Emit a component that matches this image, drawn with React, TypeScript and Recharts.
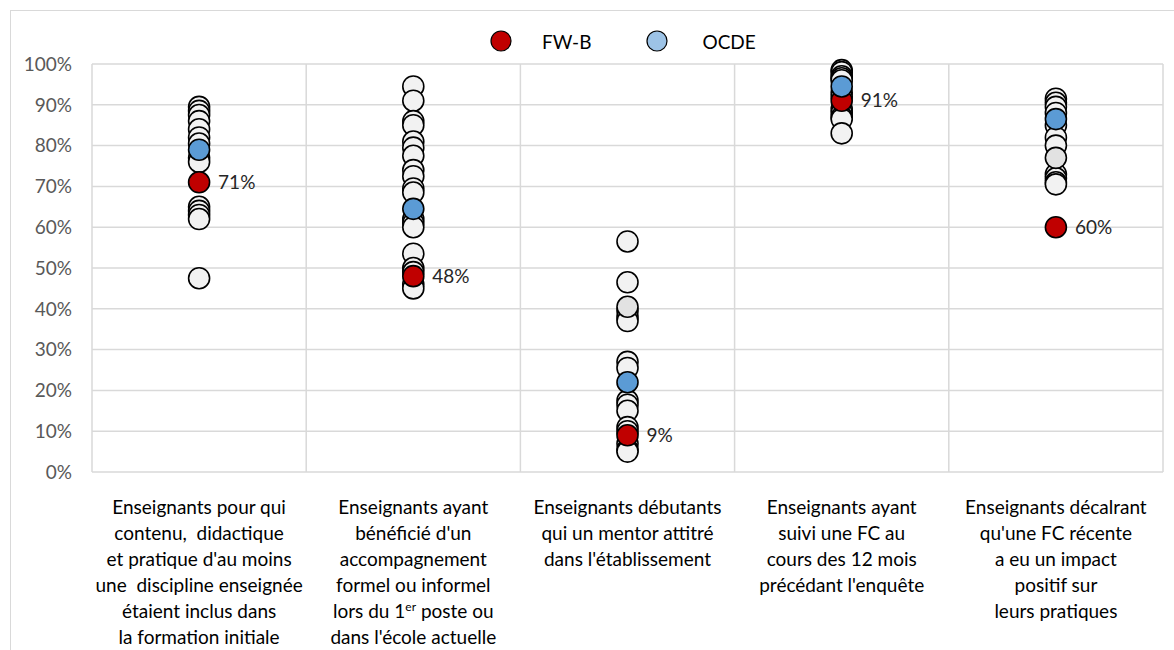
import React from 'react';
import {
  CartesianGrid,
  Legend,
  ReferenceLine,
  Scatter,
  ScatterChart,
  XAxis,
  YAxis,
} from 'recharts';

// category labels, one entry per line; "^" marks a superscript part
const categoryLines: string[][] = [
  [
    'Enseignants pour qui',
    'contenu,  didactique',
    "et pratique d'au moins",
    'une  discipline enseignée',
    'étaient inclus dans',
    'la formation initiale',
  ],
  [
    'Enseignants ayant',
    "bénéficié d'un",
    'accompagnement',
    'formel ou informel',
    'lors du 1^er^ poste ou',
    "dans l'école actuelle",
  ],
  ['Enseignants débutants', 'qui un mentor attitré', "dans l'établissement"],
  ['Enseignants ayant', 'suivi une FC au', 'cours des 12 mois', "précédant l'enquête"],
  ['Enseignants décalrant', "qu'une FC récente", 'a eu un impact', 'positif sur', 'leurs pratiques'],
];

const fwbValues = [71, 48, 9, 91, 60];
const ocdeValues = [79, 64.5, 22, 94.5, 86.5];

// other countries, per category
const countryValues: number[][] = [
  [89.5, 88.5, 87.5, 86, 84, 82, 80.5, 77, 76, 65, 64, 63, 62, 47.5],
  [94.5, 91, 86, 85, 81, 79.5, 77.5, 74, 72.5, 69.5, 68.5, 62, 61, 60, 53.5, 50, 49, 46, 45],
  [56.5, 46.5, 39.5, 38, 37, 27, 25.5, 17.5, 16.5, 15, 11, 10, 7, 5.5, 5],
  [98.5, 98, 97, 96.5, 96, 93, 92, 89, 88, 87, 86.5, 83],
  [91.5, 90.5, 89.5, 88, 85, 82, 80, 73, 72, 71, 70.5],
];
const highlightValues: (number | null)[] = [null, null, 40.5, null, 77];

const yTicks = [0, 10, 20, 30, 40, 50, 60, 70, 80, 90, 100];

const FONT = 'Lato, "Open Sans", sans-serif';
const RADIUS = 10.5;

const toPoints = (vals: (number | null)[]) =>
  vals
    .map((v, i) => ({ x: i + 0.5, y: v }))
    .filter((p) => p.y !== null);

const countryData = countryValues.flatMap((vals, i) => vals.map((v) => ({ x: i + 0.5, y: v })));
const highlightData = toPoints(highlightValues);
const fwbData = toPoints(fwbValues);
const ocdeData = toPoints(ocdeValues);

const dot = (fill: string) => (props: any) => (
  <circle cx={props.cx} cy={props.cy} r={RADIUS} fill={fill} stroke="#000" strokeWidth={1.6} />
);

const RedDot = (props: any) => (
  <g>
    <circle cx={props.cx} cy={props.cy} r={RADIUS} fill="#C00000" stroke="#000" strokeWidth={1.6} />
    <text
      x={props.cx + 19}
      y={props.cy}
      dy="0.35em"
      fontSize={19}
      fontFamily={FONT}
      fill="#262626"
    >
      {`${props.payload.y}%`}
    </text>
  </g>
);

const renderLine = (line: string, x: number, dy: number, key: number) => {
  const parts = line.split('^');
  if (parts.length === 1) {
    return (
      <tspan key={key} x={x} dy={dy}>
        {line}
      </tspan>
    );
  }
  return (
    <tspan key={key} x={x} dy={dy}>
      {parts[0]}
      <tspan dy={-7} fontSize={12}>
        {parts[1]}
      </tspan>
      <tspan dy={7}>{parts[2]}</tspan>
    </tspan>
  );
};

const CategoryTick = (props: any) => {
  const { x, y, index } = props;
  const lines = categoryLines[index] || [];
  return (
    <text
      x={x}
      y={y}
      textAnchor="middle"
      fontSize={19}
      fontFamily={FONT}
      fill="#000"
      style={{ whiteSpace: 'pre' }}
    >
      {lines.map((l, i) => renderLine(l, x, i === 0 ? 42 : 26, i))}
    </text>
  );
};

const LegendContent = () => (
  <div
    style={{
      display: 'flex',
      alignItems: 'center',
      paddingLeft: 490,
      fontFamily: FONT,
      fontSize: 19,
      color: '#000',
      height: 26,
    }}
  >
    <svg width={22} height={22}>
      <circle cx={11} cy={11} r={10} fill="#C00000" stroke="#000" strokeWidth={1.2} />
    </svg>
    <span style={{ marginLeft: 30 }}>FW-B</span>
    <svg width={22} height={22} style={{ marginLeft: 55 }}>
      <circle cx={11} cy={11} r={10} fill="#9DC3E6" stroke="#000" strokeWidth={1.2} />
    </svg>
    <span style={{ marginLeft: 34 }}>OCDE</span>
  </div>
);

export default function App() {
  return (
    <div style={{ position: 'absolute', left: 0, top: 0, width: 1174, height: 650, overflow: 'hidden' }}>
      <div
        style={{
          position: 'absolute',
          left: 10,
          top: 10,
          width: 1200,
          height: 700,
          border: '1.5px solid #d9d9d9',
        }}
      />
      <ScatterChart
        width={1174}
        height={650}
        margin={{ top: 64, right: 11, bottom: 0, left: 0 }}
        style={{ position: 'absolute', left: 0, top: 0 }}
      >
        <CartesianGrid vertical={false} stroke="#d9d9d9" strokeWidth={1.5} />
        <XAxis
          type="number"
          dataKey="x"
          domain={[0, 5]}
          ticks={[0.5, 1.5, 2.5, 3.5, 4.5]}
          interval={0}
          height={178}
          axisLine={false}
          tickLine={false}
          tickSize={0}
          tickMargin={0}
          tick={<CategoryTick />}
        />
        <YAxis
          type="number"
          dataKey="y"
          domain={[0, 100]}
          ticks={yTicks}
          interval={0}
          width={92}
          axisLine={false}
          tickLine={false}
          tickSize={0}
          tickMargin={20}
          tickFormatter={(v: number) => `${v}%`}
          tick={{ fill: '#595959', fontSize: 19, fontFamily: FONT }}
        />
        {[0, 1, 2, 3, 4, 5].map((v) => (
          <ReferenceLine key={v} x={v} stroke="#d9d9d9" strokeWidth={1.5} ifOverflow="visible" />
        ))}
        <Legend
          layout="horizontal"
          verticalAlign="middle"
          align="center"
          wrapperStyle={{ top: 28, left: 0, width: 1174 }}
          content={<LegendContent />}
        />
        <Scatter name="Pays" data={countryData} shape={dot('#F2F2F2')} isAnimationActive={false} legendType="none" />
        <Scatter name="Autre" data={highlightData} shape={dot('#E2E2E2')} isAnimationActive={false} legendType="none" />
        <Scatter name="FW-B" data={fwbData} shape={RedDot} isAnimationActive={false} />
        <Scatter name="OCDE" data={ocdeData} shape={dot('#5B9BD5')} isAnimationActive={false} />
      </ScatterChart>
    </div>
  );
}
